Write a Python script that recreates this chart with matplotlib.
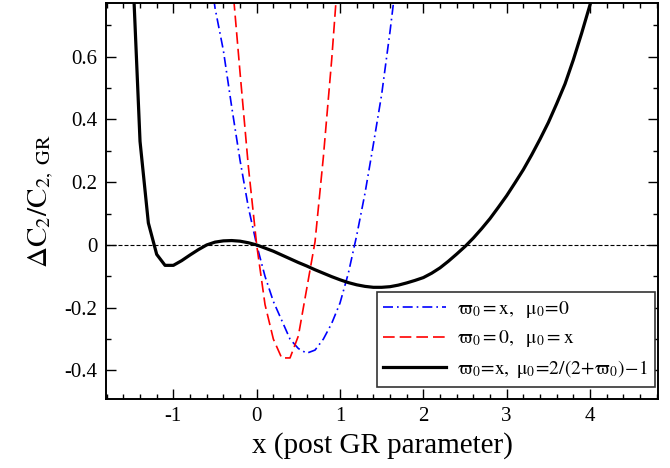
import matplotlib
matplotlib.use('Agg')
import matplotlib.pyplot as plt
from matplotlib.ticker import MultipleLocator

x_black = [-1.5, -1.4, -1.3, -1.2, -1.1, -1.0, -0.9, -0.8, -0.7, -0.6, -0.5, -0.4,
           -0.3, -0.2, -0.1, 0.0, 0.1, 0.2, 0.3, 0.4, 0.5, 0.6, 0.7, 0.8, 0.9, 1.0,
           1.1, 1.2, 1.3, 1.4, 1.5, 1.6, 1.7, 1.8, 1.9, 2.0, 2.1, 2.2, 2.3, 2.4, 2.5,
           2.6, 2.7, 2.8, 2.9, 3.0, 3.1, 3.2, 3.3, 3.4, 3.5, 3.6, 3.7, 3.8, 3.9, 4.0, 4.1]
y_black = [0.95, 0.33, 0.07, -0.03, -0.065, -0.065, -0.05, -0.032, -0.015, 0.0, 0.009,
           0.013, 0.014, 0.012, 0.007, 0.0, -0.01, -0.02, -0.032, -0.044, -0.056, -0.067,
           -0.079, -0.09, -0.101, -0.111, -0.12, -0.127, -0.132, -0.135, -0.135, -0.133,
           -0.128, -0.121, -0.113, -0.104, -0.09, -0.073, -0.052, -0.029, -0.005, 0.022,
           0.052, 0.084, 0.12, 0.157, 0.198, 0.24, 0.287, 0.337, 0.39, 0.45, 0.513, 0.59,
           0.675, 0.765, 0.86]

x_red = [-0.3, -0.2, -0.1, 0.0, 0.1, 0.2, 0.3, 0.4, 0.5, 0.6, 0.7, 0.8, 0.9, 1.0]
y_red = [0.86, 0.55, 0.25, 0.0, -0.19, -0.30, -0.36, -0.36, -0.29, -0.14, 0.01, 0.28, 0.59, 0.95]

x_blue = [-0.6, -0.5, -0.4, -0.3, -0.2, -0.1, 0.0, 0.1, 0.2, 0.3, 0.4, 0.5, 0.6, 0.7, 0.8,
          0.9, 1.0, 1.1, 1.2, 1.3, 1.4, 1.5, 1.6, 1.7]
y_blue = [0.95, 0.755, 0.62, 0.44, 0.27, 0.12, 0.0, -0.10, -0.18, -0.24, -0.30, -0.33,
          -0.345, -0.335, -0.30, -0.25, -0.185, -0.09, 0.03, 0.165, 0.32, 0.48, 0.68, 0.9]

labels = [r'$\mathrm{\varpi}_0 = \mathrm{x},\ \ \mathrm{\mu}_0\!=\!0$',
          r'$\mathrm{\varpi}_0 = 0,\ \ \mathrm{\mu}_0 = \mathrm{x}$',
          r'$\mathrm{\varpi}_0\!=\!\mathrm{x},\ \mathrm{\mu}_0\!=\!2/(2\!+\!\mathrm{\varpi}_0)\!-\!1$']

plt.rcParams['font.family'] = 'Liberation Serif'
plt.rcParams['mathtext.fontset'] = 'stix'

fig = plt.figure(figsize=(6.7, 4.68), dpi=100)
ax = fig.add_axes([0.158, 0.148, 0.8246, 0.845])

ax.axhline(0, color='black', lw=0.8, dashes=(3.6, 1.8))
ax.plot(x_blue, y_blue, color='blue', lw=1.2, dashes=(6, 2.4, 1, 2.4), label=labels[0])
ax.plot(x_red, y_red, color='red', lw=1.2, dashes=(7, 3), label=labels[1])
ax.plot(x_black, y_black, color='black', lw=2.3, label=labels[2])

ax.set_xlim(-1.81, 4.82)
ax.set_ylim(-0.49, 0.77)
ax.xaxis.set_major_locator(MultipleLocator(1))
ax.xaxis.set_minor_locator(MultipleLocator(0.2))
ax.yaxis.set_major_locator(MultipleLocator(0.2))
ax.yaxis.set_minor_locator(MultipleLocator(0.1))
ax.xaxis.set_major_formatter(matplotlib.ticker.FuncFormatter(lambda v, p: '%g' % round(v, 2)))
ax.yaxis.set_major_formatter(matplotlib.ticker.FuncFormatter(lambda v, p: '%g' % round(v, 2)))
ax.tick_params(which='both', direction='in', top=True, right=True, labelsize=15, width=1)
ax.tick_params(which='major', length=7.5, pad=6)
ax.tick_params(which='minor', length=3.8)
for s in ax.spines.values():
    s.set_linewidth(1.4)

ax.set_xlabel('x (post GR parameter)', fontsize=21, labelpad=4)
ax.set_ylabel(r'$\Delta\mathrm{C}_2/\mathrm{C}_{2,\ \mathrm{GR}}$', fontsize=21, labelpad=6)

leg = ax.legend(loc='lower right', bbox_to_anchor=(0.994, 0.03), borderaxespad=0,
                fontsize=14, frameon=True, fancybox=False, handlelength=3.2,
                handletextpad=0.6, labelspacing=0.45, borderpad=0.35)
leg.get_frame().set_edgecolor('#333333')
leg.get_frame().set_linewidth(1.2)
leg.get_frame().set_alpha(1)

fig.savefig('out.png', dpi=100)
